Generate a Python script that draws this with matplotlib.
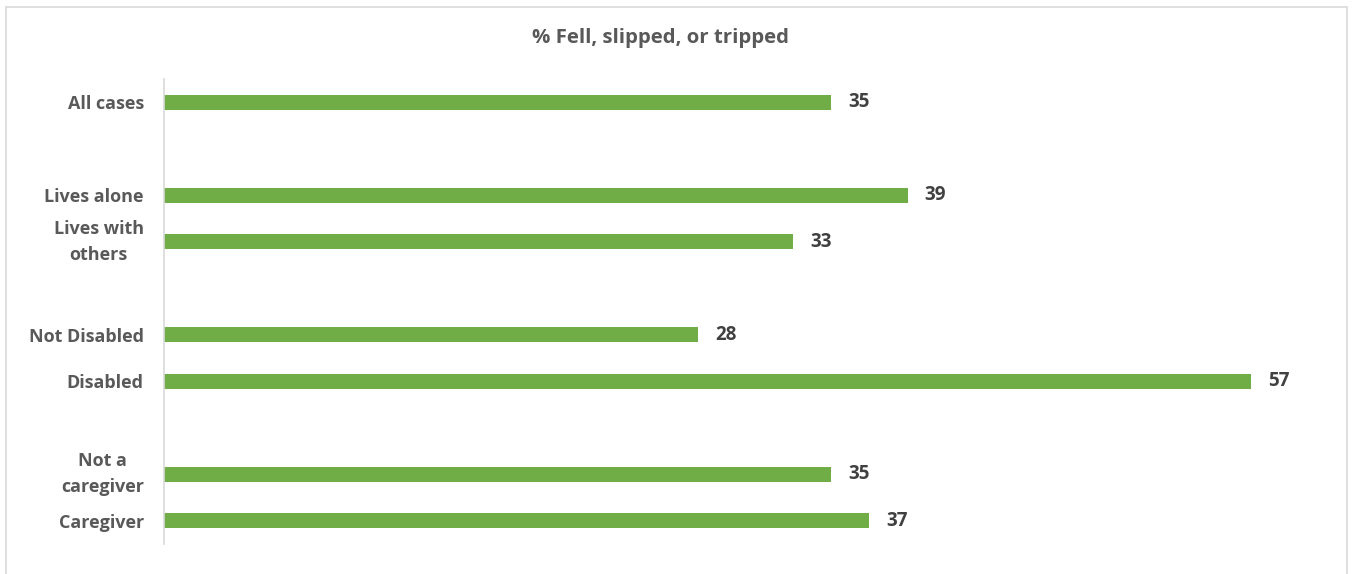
import numpy as np
import matplotlib.pyplot as plt
from matplotlib.patches import Rectangle

# blank entries are the spacer rows between groups
categories = ["All cases", "", "Lives alone", "Lives with\nothers", "",
              "Not Disabled", "Disabled", "", "Not a\ncaregiver", "Caregiver"]
values = [35, None, 39, 33, None, 28, 57, None, 35, 37]
title = "% Fell, slipped, or tripped"

plt.rcParams['font.family'] = ['Open Sans', 'DejaVu Sans']
plt.rcParams['font.weight'] = 'bold'

W, H = 1352, 574
fig = plt.figure(figsize=(W / 100, H / 100), dpi=100)

# outer chart frame
fig.patches.append(Rectangle((6 / W, -0.01), 1341 / W, (H - 7) / H + 0.01,
                             transform=fig.transFigure, fill=False,
                             edgecolor='#d9d9d9', linewidth=1.2))

ax = fig.add_axes([164 / W, 30 / H, 1144 / W, 465 / H])

y = np.arange(len(categories))
for yi, v in zip(y, values):
    if v is None:
        continue
    ax.barh(yi, v, height=0.32, color='#70ad47')
    ax.text(v + 0.9, yi, str(v), va='center', ha='left', fontsize=13.5,
            color='#404040', fontweight='bold')

ax.set_xlim(0, 60)
ax.set_ylim(len(categories) - 0.5, -0.5)
ax.set_yticks(y)
ax.set_yticklabels(categories, fontsize=13, color='#595959',
                   fontweight='bold', linespacing=1.6,
                   multialignment='center')
for lab in ax.get_yticklabels():
    if '\n' in lab.get_text():
        lab.set_va('center')
ax.tick_params(axis='y', length=0, pad=14.5)
ax.set_xticks([])
for s in ['top', 'right', 'bottom']:
    ax.spines[s].set_visible(False)
ax.spines['left'].set_color('#d9d9d9')
ax.spines['left'].set_linewidth(1.2)

fig.text(660 / W, 1 - 38 / H, title, ha='center', va='center',
         fontsize=14.7, color='#595959', fontweight='bold')

fig.savefig('out.png', dpi=100)
